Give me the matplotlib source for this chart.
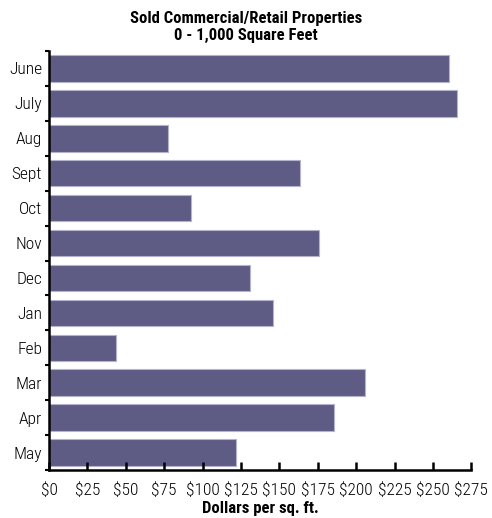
import numpy as np
from matplotlib import pyplot as plt
from matplotlib.ticker import FixedLocator

## data
months = ["June", "July", "Aug", "Sept", "Oct", "Nov", "Dec", "Jan", "Feb", "Mar", "Apr", "May"]
dollars = [260.3, 266.0, 77.2, 163.6, 92.5, 175.5, 130.8, 145.6, 43.7, 205.7, 185.7, 121.7]
xticks = [0, 25, 50, 75, 100, 125, 150, 175, 200, 225, 250, 275]

plt.rcParams['font.family'] = ['Roboto Condensed', 'DejaVu Sans']

fig = plt.figure(figsize=(4.92, 5.18), dpi=100)
ax = fig.add_axes([49 / 492, 1 - 470 / 518, (471.3 - 49) / 492, (470 - 51) / 518])

y = np.arange(len(months))
ax.barh(y, dollars, height=0.76, color="#5e5c85", edgecolor="#b4b2cc", linewidth=0.8)

ax.set_ylim(len(months) - 0.5, -0.5)
ax.set_xlim(0, 275)
ax.set_yticks(y)
ax.set_yticklabels(months, fontsize=12.5, fontweight="light")
ax.tick_params(axis="y", length=0, pad=5)
# small marks between categories on the left axis
ax.yaxis.set_minor_locator(FixedLocator(np.arange(-0.5, len(months), 1.0)))
ax.tick_params(axis="y", which="minor", length=3, width=1.5, direction="out")

ax.set_xticks(xticks)
ax.set_xticklabels(["$%d" % v for v in xticks], fontsize=12.5, fontweight="light")
ax.tick_params(axis="x", direction="in", length=6, width=1.8, pad=9)

for side in ["top", "right"]:
    ax.spines[side].set_visible(False)
ax.spines["left"].set_linewidth(1.8)
ax.spines["bottom"].set_linewidth(1.8)

ax.set_xlabel("Dollars per sq. ft.", fontsize=12, fontweight="bold", labelpad=2)
fig.text(0.5, 1 - 27 / 518, "Sold Commercial/Retail Properties\n0 - 1,000 Square Feet",
         ha="center", va="center", fontsize=12, fontweight="bold", linespacing=1.2)

fig.savefig("out.png", dpi=100)
